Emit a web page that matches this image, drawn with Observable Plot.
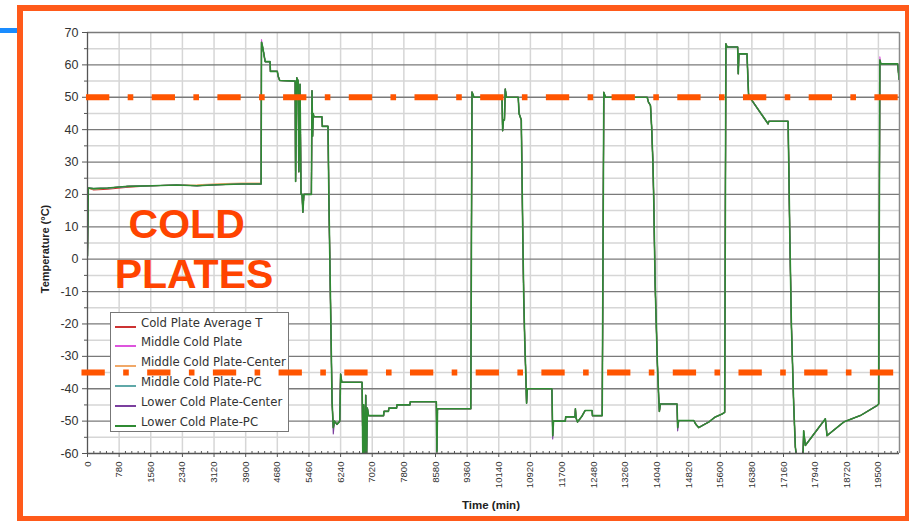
<!DOCTYPE html>
<html><head><meta charset="utf-8">
<script src="https://cdn.jsdelivr.net/npm/d3@7"></script>
<script src="https://cdn.jsdelivr.net/npm/@observablehq/plot@0.6"></script>
<style>
html,body{margin:0;padding:0;background:#fff;}
#wrap{position:relative;width:909px;height:521px;overflow:hidden;font-family:"Liberation Sans",Arial,sans-serif;}
.layer{position:absolute;left:0;top:0;}
#frame{position:absolute;left:17px;top:5px;width:882px;height:505px;border:6px solid #ff5a1a;}
#blue{position:absolute;left:0;top:28px;width:17px;height:5px;background:#1a8cff;}
#legend{position:absolute;left:110px;top:312px;width:177px;height:118px;border:1px solid #777;background:#fff;}
.row{position:absolute;left:0;height:20px;line-height:20px;font:11.7px "DejaVu Sans",sans-serif;color:#333;white-space:nowrap;}
.sw{position:absolute;left:4px;top:10px;width:21px;height:2px;}
.lab{position:absolute;left:30px;top:0;}
.cold{position:absolute;width:240px;text-align:center;color:#ff4400;font:bold 41px "Liberation Sans",Arial,sans-serif;line-height:41px;}
.atitle{position:absolute;font:bold 11px "Liberation Sans",Arial,sans-serif;color:#222;white-space:nowrap;}
</style></head>
<body><div id="wrap"></div>
<script>
// ---- data ----
const time = [0,20,150,500,1000,1600,2200,2700,3200,3800,
4280,4290,4310,4340,4380,4500,4510,4680,4700,4740,
5120,5130,5160,5195,5210,5240,5265,5290,5310,5335,
5520,5535,5550,5565,5580,5780,5790,5930,5950,5975,
6000,6030,6060,6090,6150,6220,6240,6270,6770,6790,
6810,6835,6860,6880,6900,6930,7300,7310,7420,7430,
7620,7630,7950,7960,8600,8615,8630,9450,9480,9530,
10220,10235,10255,10280,10300,10330,10620,10640,10695,10715,
10735,10756,10780,10805,10825,10845,11450,11470,11490,11780,
11790,12020,12030,12045,12080,12190,12270,12440,12450,12690,
12730,12770,13800,13830,13880,13910,13940,13960,13995,14050,
14083,14100,14124,14535,14550,14576,14945,15000,15070,15315,
15480,15645,15710,15740,15770,16030,16045,16060,16260,16285,
16300,16780,16800,17273,17290,17312,17354,17411,17452,17480,
17640,17657,17699,18192,18233,18643,19054,19466,19506,19536,
19560,19975,20010];

const avgT = [3,22,21.4,21.6,22.2,22.7,22.9,22.7,23.0,23.2,
23.2,67,66,64,61,61,58,58,56.5,55.2,
55,24,56,55,27,54,20,20,14.5,20,
20,52,38,45,44,44,41,41,20,0,
-20,-44,-52,-50,-51,-50,-35.5,-38,-38,-63,
-45,-63,-42,-62,-46,-48.3,-48.3,-47,-47,-46,
-46,-45,-45,-44,-44,-59.5,-46.2,-46.2,51.6,50,
50,39.7,43,43,52.5,50,50,45,43,24,
5,-12,-25,-35,-44.5,-40,-40,-54.5,-50,-50,
-48.7,-48.7,-46.2,-49,-50.3,-48.5,-46.7,-46.7,-48.3,-48.3,
51.5,50,50,48.5,47.5,40.5,30,19,-7.6,-32,
-42.6,-47,-44.7,-44.7,-52,-49.8,-49.8,-51,-52,-50.3,
-48.7,-47.8,-47.3,66.5,65.5,65.5,57.3,63.4,63.4,55,
50.5,41.8,42.6,42.6,29.4,10,-20,-44.7,-58,-61,
-61,-53,-57.5,-49.3,-54.5,-50.3,-48.3,-45.2,-44.7,61.5,
60.3,60.3,55.5];

const midPlate = [1,22,21.8,22.0,22.5,22.7,22.9,22.7,23.0,23.2,
23.2,67.8,66,64,61,61,58,58,56.5,55.2,
55,24,56,55,27,54,20,20,14.5,20,
20,52,38,45,44,44,41,41,20,-3,
-20,-44,-52,-50,-51,-50,-35.5,-38,-38,-63,
-45,-63,-42,-62,-46,-48.3,-48.3,-47,-47,-46,
-46,-45,-45,-44,-44,-59.5,-46.2,-46.2,51.6,50,
50,39.7,43,43,52.5,50,50,45,43,24,
3,-12,-25,-35,-44.5,-40,-40,-54.5,-50,-50,
-48.7,-48.7,-46.2,-49,-50.3,-48.5,-46.7,-46.7,-48.3,-48.3,
51.5,50,50,48.5,47.5,40.5,30,17,-7.6,-32,
-42.6,-47,-44.7,-44.7,-52,-49.8,-49.8,-51,-52,-50.3,
-48.7,-47.8,-47.3,66.5,65.5,65.5,57.3,63.4,63.4,55,
50.5,41.8,42.6,42.6,28,10,-20,-44.7,-58,-61,
-61,-53,-57.5,-49.3,-54.5,-50.3,-48.3,-45.2,-44.7,62.5,
60.3,60.3,55.5];

const midCenter = [1,22,21.5,22.0,22.5,22.7,22.9,23.0,23.3,23.5,
23.5,67,66,64,61,61,58,58,56.5,55.2,
55,24,56,55,27,54,20,20,14.5,20,
20,52,38,45,44,44,41,41,20,0,
-20,-44,-52,-50,-51,-50,-35.5,-38,-38,-63,
-45,-63,-42,-62,-46,-48.3,-48.3,-47,-47,-46,
-46,-45,-45,-44,-44,-59.5,-46.2,-46.2,51.6,50,
50,39.7,43,43,52.5,50,50,45,43,24,
5,-12,-25,-35,-44.5,-40,-40,-54.5,-50,-50,
-48.7,-48.7,-46.2,-49,-50.3,-48.5,-46.7,-46.7,-48.3,-48.3,
51.5,50,50,48.5,47.5,40.5,30,19,-7.6,-32,
-42.6,-47,-44.7,-44.7,-52,-49.8,-49.8,-51,-52,-50.3,
-48.7,-47.8,-47.3,66.5,65.5,65.5,57.3,63.4,63.4,55,
50.5,41.8,42.6,42.6,29.4,10,-20,-44.7,-58,-61,
-61,-53,-57.5,-49.3,-54.5,-50.3,-48.3,-45.2,-44.7,61.5,
60.3,60.3,55.5];

const midPC = [1,22,21.8,22.0,22.5,22.7,22.9,22.7,23.0,23.2,
23.2,67,66,64,61,61,58,58,56.5,55.2,
55,24,56,55,27,54,20,20,14.5,20,
20,52,38,45,44,44,41,41,20,0,
-20,-44,-52,-50,-51,-50,-35.5,-38,-38,-63,
-45,-63,-42,-62,-46,-48.3,-48.3,-47,-47,-46,
-46,-45,-45,-44,-44,-59.5,-46.2,-46.2,51.6,50,
50,39.7,43,43,52.5,50,50,45,43,24,
5,-12,-25,-35,-44.5,-40,-40,-54.5,-50,-50,
-48.7,-48.7,-46.2,-49,-50.3,-48.5,-46.7,-46.7,-48.3,-48.3,
51.5,50,50,48.5,47.5,40.5,30,19,-7.6,-32,
-42.6,-47,-44.7,-44.7,-52,-49.8,-49.8,-51,-52,-50.3,
-48.7,-47.8,-47.3,66.5,65.5,65.5,57.3,63.4,63.4,55,
50.5,41.8,42.6,42.6,29.4,10,-20,-44.7,-58,-61,
-61,-53,-57.5,-49.3,-54.5,-50.3,-48.3,-45.2,-44.7,61.5,
60.3,60.3,55.5];

const lowCenter = [1,22,21.8,22.0,22.5,22.7,22.9,22.7,23.0,23.2,
23.2,67,66,64,61,61,58,58,56.5,55.2,
55,24,56,55,27,54,20,20,14.5,20,
20,52,38,45,44,44,41,41,20,0,
-20,-44,-54,-50,-51,-50,-35.5,-38,-38,-63,
-45,-63,-42,-62,-46,-48.3,-48.3,-47,-47,-46,
-46,-45,-45,-44,-44,-59.5,-46.2,-46.2,51.6,50,
50,39.7,43,43,52.5,50,50,45,43,24,
5,-12,-25,-35,-44.5,-40,-40,-55.5,-50,-50,
-48.7,-48.7,-46.2,-49,-50.3,-48.5,-46.7,-46.7,-48.3,-48.3,
51.5,50,50,48.5,47.5,40.5,30,19,-7.6,-32,
-42.6,-47,-44.7,-44.7,-53,-49.8,-49.8,-51,-52,-50.3,
-48.7,-47.8,-47.3,66.5,65.5,65.5,57.3,63.4,63.4,55,
50.5,41.8,42.6,42.6,29.4,10,-20,-44.7,-58,-61,
-61,-54,-57.5,-49.3,-54.5,-50.3,-48.3,-45.2,-44.7,61.5,
60.3,60.3,55.5];

const lowPC = [1,22,21.8,22.0,22.5,22.7,22.9,22.7,23.0,23.2,
23.2,67,66,64,61,61,58,58,56.5,55.2,
55,24,56,55,27,54,20,20,14.5,20,
20,52,38,45,44,44,41,41,20,0,
-20,-44,-52,-50,-51,-50,-35.5,-38,-38,-63,
-45,-63,-42,-62,-46,-48.3,-48.3,-47,-47,-46,
-46,-45,-45,-44,-44,-59.5,-46.2,-46.2,51.6,50,
50,39.7,43,43,52.5,50,50,45,43,24,
5,-12,-25,-35,-44.5,-40,-40,-54.5,-50,-50,
-48.7,-48.7,-46.2,-49,-50.3,-48.5,-46.7,-46.7,-48.3,-48.3,
51.5,50,50,48.5,47.5,40.5,30,19,-7.6,-32,
-42.6,-47,-44.7,-44.7,-52,-49.8,-49.8,-51,-52,-50.3,
-48.7,-47.8,-47.3,66.5,65.5,65.5,57.3,63.4,63.4,55,
50.5,41.8,42.6,42.6,29.4,10,-20,-44.7,-58,-61,
-61,-53,-57.5,-49.3,-54.5,-50.3,-48.3,-45.2,-44.7,61.5,
60.3,60.3,55.5];

const seriesNames = ["Cold Plate Average T","Middle Cold Plate","Middle Cold Plate-Center","Middle Cold Plate-PC","Lower Cold Plate-Center","Lower Cold Plate-PC"];
const seriesColors = ["#cc3333","#dd55dd","#f0a868","#5fa8a8","#7b3f9e","#2f8a33"];
const seriesValues = [avgT, midPlate, midCenter, midPC, lowCenter, lowPC];

const xTicks = [0,780,1560,2340,3120,3900,4680,5460,6240,7020,7800,8580,9360,10140,10920,11700,12480,13260,14040,14820,15600,16380,17160,17940,18720,19500];
const yTicks = [-60,-50,-40,-30,-20,-10,0,10,20,30,40,50,60,70];
const refLevels = [50, -35];
const refStart = [-25, -136];
const refEnd = [20087, 19963];

// ---- build ----
const rows = time.map((t, i) => {
  const r = {time: t};
  seriesValues.forEach((vals, k) => r["s" + k] = vals[i]);
  return r;
});
const refRows = refLevels.map((y, i) => ({y, x1: refStart[i], x2: refEnd[i]}));
const yMinor = d3.range(-55, 70, 10);
const xMinor = d3.range(0, 20020, 156).filter(v => v % 780 !== 0);

const W = 909, H = 521;
const common = {
  width: W, height: H,
  marginLeft: 87, marginRight: 10, marginTop: 32, marginBottom: 68,
  x: {domain: [0, 20020], label: null},
  y: {domain: [-60, 70], label: null},
  style: {fontFamily: '"Liberation Sans", Arial, sans-serif', color: "#333", background: "transparent", overflow: "visible"}
};

const chart = Plot.plot({
  ...common,
  marks: [
    Plot.ruleY(yMinor, {stroke: "#d6d6d6", strokeWidth: 1.5}),
    Plot.ruleX(xTicks.slice(1), {stroke: "#d6d6d6", strokeWidth: 1.5}),
    Plot.ruleY(yTicks.slice(1), {stroke: "#7a7a7a", strokeWidth: 1.3}),
    ...seriesValues.map((v, k) => Plot.line(rows, {x: "time", y: "s" + k, stroke: seriesColors[k], strokeWidth: k === 5 ? 1.6 : 1.1, clip: true})),
    Plot.ruleX([20020], {stroke: "#8a8a8a", strokeWidth: 1.5}),
    Plot.ruleX([0], {stroke: "#555", strokeWidth: 1.3}),
    Plot.ruleY([-60], {stroke: "#555", strokeWidth: 1.3}),
    Plot.axisY({ticks: yTicks, tickSize: 5, tickPadding: 4, tickFormat: d => String(d), fontSize: 12.5, stroke: "#555"}),
    Plot.axisY({ticks: yMinor, tickSize: 3, tickFormat: () => "", stroke: "#555"}),
    Plot.axisX({ticks: xTicks, tickSize: 4, tickPadding: 4, tickRotate: -90, tickFormat: d => String(d), fontSize: 9.6, stroke: "#555"}),
    Plot.axisX({ticks: xMinor, tickSize: 2, tickFormat: () => "", stroke: "#555", dy: -2})
  ]
});

const overlay = Plot.plot({
  ...common,
  x: {...common.x, axis: null},
  y: {...common.y, axis: null},
  marks: [
    Plot.ruleY(refRows, {y: "y", x1: "x1", x2: "x2", stroke: "#ff5500", strokeWidth: 6, strokeDasharray: "23.3,18.4,5.6,18.4"})
  ]
});

const wrap = document.getElementById("wrap");
chart.classList.add("layer");
wrap.appendChild(chart);

const legend = document.createElement("div");
legend.id = "legend";
seriesNames.forEach((name, k) => {
  const row = document.createElement("div");
  row.className = "row";
  row.style.top = Math.round(2.5 + k * 19.8) + "px";
  row.style.width = "177px";
  row.innerHTML = `<span class="sw" style="background:${seriesColors[k]}"></span><span class="lab">${name}</span>`;
  legend.appendChild(row);
});
wrap.appendChild(legend);

overlay.classList.add("layer");
wrap.appendChild(overlay);

const addDiv = (cls, text, css) => {
  const d = document.createElement("div");
  d.className = cls; d.textContent = text;
  Object.assign(d.style, css);
  wrap.appendChild(d);
  return d;
};
addDiv("cold", "COLD", {left: (186.7 - 120) + "px", top: "203.8px"});
addDiv("cold", "PLATES", {left: (194 - 120) + "px", top: "253.8px"});
addDiv("atitle", "Temperature (°C)", {left: "45px", top: "248.5px", transform: "translate(-50%,-50%) rotate(-90deg)"});
addDiv("atitle", "Time (min)", {left: "491px", top: "505px", transform: "translate(-50%,-50%)", fontSize: "11.5px"});

const frame = document.createElement("div"); frame.id = "frame"; wrap.appendChild(frame);
const blue = document.createElement("div"); blue.id = "blue"; wrap.appendChild(blue);
</script>
</body></html>
